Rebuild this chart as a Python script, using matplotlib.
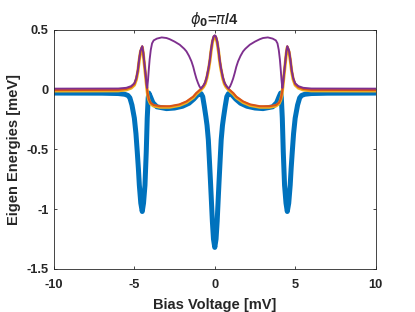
import matplotlib
matplotlib.use("Agg")
import matplotlib.pyplot as plt

# lowest eigen energy (blue, thick)
x_blue = [-10, -7, -6, -5.6, -5.4, -5.28, -5.15, -5.0, -4.9, -4.82, -4.75, -4.69, -4.6, -4.51,
          -4.43, -4.34, -4.26, -4.2, -4.14, -4.1, -4.0, -3.85, -3.6, -3.0, -2.5, -2.0, -1.6, -1.3,
          -1.1, -0.95, -0.85, -0.75, -0.65, -0.55, -0.48, -0.4, -0.33, -0.27, -0.22, -0.15, -0.08, 0,
          0.08, 0.15, 0.22, 0.27, 0.33, 0.4, 0.48, 0.55, 0.65, 0.75, 0.85, 0.95, 1.1, 1.3, 1.6, 2.0,
          2.5, 3.0, 3.6, 3.85, 4.0, 4.1, 4.14, 4.2, 4.26, 4.34, 4.43, 4.51, 4.6, 4.69, 4.75, 4.82,
          4.9, 5.0, 5.15, 5.28, 5.4, 5.6, 6, 7, 10]
e_blue = [-0.030, -0.031, -0.034, -0.04, -0.05, -0.07, -0.13, -0.24, -0.37, -0.52, -0.66, -0.8,
          -0.95, -1.02, -0.95, -0.8, -0.52, -0.24, -0.07, -0.03, -0.06, -0.11, -0.145, -0.16,
          -0.155, -0.14, -0.115, -0.08, -0.05, -0.035, -0.035, -0.06, -0.14, -0.23, -0.3, -0.42,
          -0.6, -0.76, -0.9, -1.1, -1.25, -1.32,
          -1.25, -1.1, -0.9, -0.76, -0.6, -0.42, -0.3, -0.23, -0.14, -0.06, -0.035, -0.035, -0.05,
          -0.08, -0.115, -0.14, -0.155, -0.16, -0.145, -0.11, -0.06, -0.03, -0.07, -0.24, -0.52,
          -0.8, -0.95, -1.02, -0.95, -0.8, -0.66, -0.52, -0.37, -0.24, -0.13, -0.07, -0.05, -0.04,
          -0.034, -0.031, -0.030]

# second and third eigen energies (orange / yellow, almost degenerate)
x_mid = [-10, -6, -5.5, -5.2, -5.0, -4.88, -4.78, -4.7, -4.62, -4.51, -4.45, -4.38, -4.3, -4.24,
         -4.18, -4.1, -4.0, -3.8, -3.4, -2.8, -2.2, -1.76, -1.5, -1.34, -1.15, -1.04, -0.86, -0.7,
         -0.6, -0.5, -0.38, -0.3, -0.24, -0.15, -0.07, 0,
         0.07, 0.15, 0.24, 0.3, 0.38, 0.5, 0.6, 0.7, 0.86, 1.04, 1.15, 1.34, 1.5, 1.76, 2.2, 2.8,
         3.4, 3.8, 4.0, 4.1, 4.18, 4.24, 4.3, 4.38, 4.45, 4.51, 4.62, 4.7, 4.78, 4.88, 5.0, 5.2,
         5.5, 6, 10]
e_orange = [-0.005, -0.003, 0.005, 0.02, 0.045, 0.09, 0.16, 0.25, 0.32, 0.36, 0.31, 0.22, 0.12,
            0.04, -0.03, -0.08, -0.11, -0.13, -0.14, -0.14, -0.125, -0.1, -0.075, -0.06, -0.03,
            -0.017, 0.005, 0.03, 0.055, 0.1, 0.18, 0.25, 0.32, 0.4, 0.44, 0.45,
            0.44, 0.4, 0.32, 0.25, 0.18, 0.1, 0.055, 0.03, 0.005, -0.017, -0.03, -0.06, -0.075,
            -0.1, -0.125, -0.14, -0.14, -0.13, -0.11, -0.08, -0.03, 0.04, 0.12, 0.22, 0.31, 0.36,
            0.32, 0.25, 0.16, 0.09, 0.045, 0.02, 0.005, -0.003, -0.005]
e_yellow = [-0.012, -0.011, -0.003, 0.012, 0.037, 0.082, 0.152, 0.242, 0.312, 0.352, 0.302,
            0.212, 0.112, 0.032, -0.038, -0.088, -0.118, -0.138, -0.148, -0.148, -0.133, -0.108,
            -0.083, -0.068, -0.038, -0.025, -0.003, 0.022, 0.047, 0.092, 0.172, 0.242, 0.312,
            0.392, 0.432, 0.442,
            0.432, 0.392, 0.312, 0.242, 0.172, 0.092, 0.047, 0.022, -0.003, -0.025, -0.038, -0.068,
            -0.083, -0.108, -0.133, -0.148, -0.148, -0.138, -0.118, -0.088, -0.038, 0.032, 0.112,
            0.212, 0.302, 0.352, 0.312, 0.242, 0.152, 0.082, 0.037, 0.012, -0.003, -0.011, -0.012]

# highest eigen energy (purple)
x_purple = [-10, -6, -5.5, -5.2, -5.0, -4.88, -4.78, -4.7, -4.62, -4.51, -4.45, -4.38, -4.3,
            -4.24, -4.2, -4.15, -4.1, -4.05, -3.98, -3.9, -3.8, -3.6, -3.3, -3.0, -2.8, -2.5,
            -2.18, -1.9, -1.76, -1.6, -1.45, -1.34, -1.24, -1.14, -1.04, -0.95, -0.86, -0.7, -0.6,
            -0.5, -0.38, -0.3, -0.24, -0.15, -0.07, 0,
            0.07, 0.15, 0.24, 0.3, 0.38, 0.5, 0.6, 0.7, 0.86, 0.95, 1.04, 1.14, 1.24, 1.34, 1.45,
            1.6, 1.76, 1.9, 2.18, 2.5, 2.8, 3.0, 3.3, 3.6, 3.8, 3.9, 3.98, 4.05, 4.1, 4.15, 4.2,
            4.24, 4.3, 4.38, 4.45, 4.51, 4.62, 4.7, 4.78, 4.88, 5.0, 5.2, 5.5, 6, 10]
e_purple = [0.007, 0.008, 0.014, 0.028, 0.052, 0.095, 0.165, 0.255, 0.325, 0.362, 0.315, 0.225,
            0.125, 0.045, 0.012, 0.08, 0.17, 0.25, 0.33, 0.385, 0.41, 0.425, 0.435, 0.43, 0.42,
            0.4, 0.374, 0.34, 0.318, 0.28, 0.235, 0.19, 0.137, 0.09, 0.053, 0.025, 0.008, 0.035,
            0.06, 0.105, 0.185, 0.255, 0.325, 0.405, 0.445, 0.452,
            0.445, 0.405, 0.325, 0.255, 0.185, 0.105, 0.06, 0.035, 0.008, 0.025, 0.053, 0.09,
            0.137, 0.19, 0.235, 0.28, 0.318, 0.34, 0.374, 0.4, 0.42, 0.43, 0.435, 0.425, 0.41,
            0.385, 0.33, 0.25, 0.17, 0.08, 0.012, 0.045, 0.125, 0.225, 0.315, 0.362, 0.325, 0.255,
            0.165, 0.095, 0.052, 0.028, 0.014, 0.008, 0.007]

x_ticks = [-10, -5, 0, 5, 10]
y_ticks = [-1.5, -1, -0.5, 0, 0.5]
y_ticklabels = ["-1.5", "-1", "-0.5", "0", "0.5"]

plt.rcParams["font.family"] = ["Liberation Sans", "DejaVu Sans"]
plt.rcParams["mathtext.fontset"] = "dejavusans"

fig = plt.figure(figsize=(4.15, 3.12), dpi=100)
ax = fig.add_axes([0.130, 0.138, 0.775, 0.767])

ax.plot(x_blue, e_blue, color="#0072BD", lw=3.6, solid_capstyle="round")
ax.plot(x_mid, e_yellow, color="#EDB120", lw=2.3)
ax.plot(x_mid, e_orange, color="#D95319", lw=1.5)
ax.plot(x_purple, e_purple, color="#7E2F8E", lw=1.35)

ax.set_xlim(-10, 10)
ax.set_ylim(-1.5, 0.5)
ax.set_xticks(x_ticks)
ax.set_xticklabels([str(t) for t in x_ticks])
ax.set_yticks(y_ticks)
ax.set_yticklabels(y_ticklabels)

dark = "#262626"
for s in ax.spines.values():
    s.set_color("0.15")
    s.set_linewidth(0.6)
ax.tick_params(direction="in", length=2.5, width=0.6, color="0.15", top=True, right=True,
               labelsize=9.3, labelcolor=dark)
ax.tick_params(axis="x", pad=7)
ax.tick_params(axis="y", pad=4)
for lab in ax.get_xticklabels() + ax.get_yticklabels():
    lab.set_fontweight("bold")

ax.set_xlabel("Bias Voltage [mV]", fontsize=10.5, fontweight="bold", color=dark, labelpad=5)
ax.set_ylabel("Eigen Energies [meV]", fontsize=10.5, fontweight="bold", color=dark, labelpad=4)
ax.set_title(r"$\phi_{\mathbf{0}}$=$\pi$/4", fontsize=10.5, fontweight="bold", color=dark, pad=4)

fig.savefig("out.png", dpi=100)
